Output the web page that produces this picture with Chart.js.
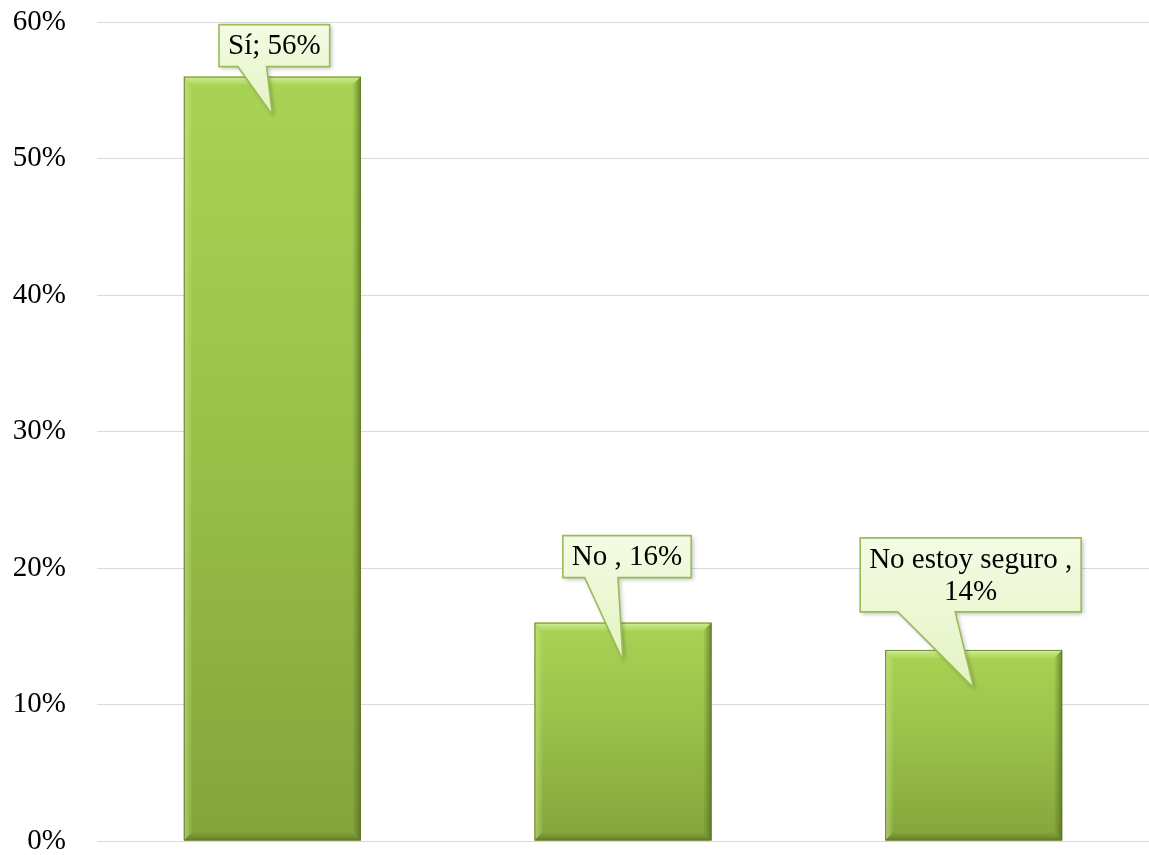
<!DOCTYPE html>
<html>
<head>
<meta charset="utf-8">
<script src="https://cdn.jsdelivr.net/npm/chart.js@4.4.1/dist/chart.umd.min.js"></script>
<style>
  html, body { margin: 0; padding: 0; background: #ffffff; }
  #wrap { width: 1149px; height: 855px; position: relative; }
</style>
</head>
<body>
<div id="wrap"><canvas id="c" width="1149" height="855"></canvas></div>
<script>
// ---- data ----
const categories = ["Sí", "No ", "No estoy seguro "];
const separators = [";", ",", ","];
const values = [56, 16, 14];
const yTickValues = [0, 10, 20, 30, 40, 50, 60];

// ---- callout layout (styling only) ----
const calloutDx = [2, 4, -3];      // box center offset from bar center
const calloutGap = [10, 45, 38];   // gap between box bottom and bar top
const tipDepth = 38;               // tail tip below bar top

const labelTexts = categories.map((c, i) => c + separators[i] + " " + values[i] + "%");
const FONT = "29px 'Liberation Serif', 'Times New Roman', serif";

function barFill(context) {
  const chart = context.chart;
  const ys = chart.scales.y;
  if (!ys || context.dataIndex === undefined) return '#9bc34a';
  const top = ys.getPixelForValue(values[context.dataIndex]);
  const bot = ys.getPixelForValue(0);
  if (!isFinite(top) || !isFinite(bot)) return '#9bc34a';
  const g = chart.ctx.createLinearGradient(0, top, 0, bot);
  g.addColorStop(0, '#a9d354');
  g.addColorStop(0.45, '#9bc14a');
  g.addColorStop(1, '#84a43b');
  return g;
}

const bevelPlugin = {
  id: 'bevel',
  afterDatasetsDraw(chart) {
    const ctx = chart.ctx;
    const meta = chart.getDatasetMeta(0);
    meta.data.forEach((bar) => {
      const p = bar.getProps(['x', 'y', 'base', 'width'], true);
      const l = p.x - p.width / 2, r = p.x + p.width / 2, t = p.y, b = p.base;
      const w = 8;
      ctx.save();
      let g = ctx.createLinearGradient(0, t, 0, t + w);
      g.addColorStop(0, 'rgba(215,240,160,0.95)');
      g.addColorStop(1, 'rgba(190,225,120,0.35)');
      ctx.fillStyle = g;
      ctx.beginPath();
      ctx.moveTo(l, t); ctx.lineTo(r, t); ctx.lineTo(r - w, t + w); ctx.lineTo(l + w, t + w); ctx.closePath();
      ctx.fill();
      g = ctx.createLinearGradient(l, 0, l + w, 0);
      g.addColorStop(0, 'rgba(200,232,140,0.6)');
      g.addColorStop(1, 'rgba(200,232,140,0.1)');
      ctx.fillStyle = g;
      ctx.beginPath();
      ctx.moveTo(l, t); ctx.lineTo(l + w, t + w); ctx.lineTo(l + w, b - w); ctx.lineTo(l, b); ctx.closePath();
      ctx.fill();
      g = ctx.createLinearGradient(r - w, 0, r, 0);
      g.addColorStop(0, 'rgba(80,105,30,0.05)');
      g.addColorStop(1, 'rgba(70,95,25,0.65)');
      ctx.fillStyle = g;
      ctx.beginPath();
      ctx.moveTo(r, t); ctx.lineTo(r, b); ctx.lineTo(r - w, b - w); ctx.lineTo(r - w, t + w); ctx.closePath();
      ctx.fill();
      g = ctx.createLinearGradient(0, b - w, 0, b);
      g.addColorStop(0, 'rgba(80,105,30,0.05)');
      g.addColorStop(1, 'rgba(70,95,25,0.55)');
      ctx.fillStyle = g;
      ctx.beginPath();
      ctx.moveTo(l, b); ctx.lineTo(r, b); ctx.lineTo(r - w, b - w); ctx.lineTo(l + w, b - w); ctx.closePath();
      ctx.fill();
      ctx.strokeStyle = 'rgba(95,120,40,0.85)';
      ctx.lineWidth = 1;
      ctx.strokeRect(l + 0.5, t + 0.5, r - l - 1, b - t - 1);
      ctx.restore();
    });
  }
};

function wrapText(ctx, text, maxW) {
  const words = text.split(' ').filter(s => s.length);
  const lines = [];
  let cur = '';
  words.forEach(wd => {
    const test = cur ? cur + ' ' + wd : wd;
    if (ctx.measureText(test).width > maxW && cur) { lines.push(cur); cur = wd; }
    else cur = test;
  });
  if (cur) lines.push(cur);
  return lines;
}

const calloutPlugin = {
  id: 'callouts',
  afterDatasetsDraw(chart) {
    const ctx = chart.ctx;
    const meta = chart.getDatasetMeta(0);
    ctx.save();
    ctx.font = FONT;
    meta.data.forEach((bar, i) => {
      const p = bar.getProps(['x', 'y'], true);
      const lines = wrapText(ctx, labelTexts[i], 212);
      const tw = Math.max(...lines.map(s => ctx.measureText(s).width));
      const lh = 32;
      const bw = tw + 18, bh = lines.length * lh + 10;
      const cx = p.x + calloutDx[i];
      const bb = p.y - calloutGap[i];
      const bt = bb - bh, bl = cx - bw / 2, br = cx + bw / 2;
      const tipX = p.x, tipY = p.y + tipDepth;
      const t1 = bl + bw * 0.17, t2 = bl + bw * 0.43;
      ctx.beginPath();
      ctx.moveTo(bl, bt);
      ctx.lineTo(br, bt);
      ctx.lineTo(br, bb);
      ctx.lineTo(t2, bb);
      ctx.lineTo(tipX, tipY);
      ctx.lineTo(t1, bb);
      ctx.lineTo(bl, bb);
      ctx.closePath();
      ctx.save();
      ctx.shadowColor = 'rgba(0,0,0,0.25)';
      ctx.shadowBlur = 4;
      ctx.shadowOffsetX = 2;
      ctx.shadowOffsetY = 2;
      const g = ctx.createLinearGradient(0, bt, 0, tipY);
      g.addColorStop(0, '#f4fbe4');
      g.addColorStop(1, '#e4f3c2');
      ctx.fillStyle = g;
      ctx.fill();
      ctx.restore();
      ctx.strokeStyle = '#9bbb59';
      ctx.lineWidth = 1.6;
      ctx.lineJoin = 'miter';
      ctx.stroke();
      ctx.fillStyle = '#000000';
      ctx.textAlign = 'center';
      ctx.textBaseline = 'middle';
      lines.forEach((s, k) => {
        ctx.fillText(s, cx, bt + 5 + lh * k + lh / 2 + 1);
      });
    });
    ctx.restore();
  }
};

new Chart(document.getElementById('c'), {
  type: 'bar',
  data: {
    labels: categories,
    datasets: [{
      data: values,
      backgroundColor: barFill,
      borderWidth: 0,
      barPercentage: 0.505,
      categoryPercentage: 1.0
    }]
  },
  options: {
    responsive: false,
    animation: false,
    devicePixelRatio: 1,
    layout: { padding: { top: 22, bottom: 14, left: 0, right: 0 } },
    plugins: { legend: { display: false }, tooltip: { enabled: false } },
    scales: {
      x: { display: false },
      y: {
        min: 0,
        max: 60,
        afterBuildTicks(scale) { scale.ticks = yTickValues.map(v => ({ value: v })); },
        afterFit(scale) { scale.width = 97; scale.paddingTop = 0; scale.paddingBottom = 0; },
        border: { display: false },
        grid: { color: '#d9d9d9', lineWidth: 1, drawTicks: false },
        ticks: {
          padding: 31,
          color: '#000000',
          font: { family: "'Liberation Serif', 'Times New Roman', serif", size: 29 },
          callback: (v) => v + '%'
        }
      }
    }
  },
  plugins: [bevelPlugin, calloutPlugin]
});
</script>
</body>
</html>
